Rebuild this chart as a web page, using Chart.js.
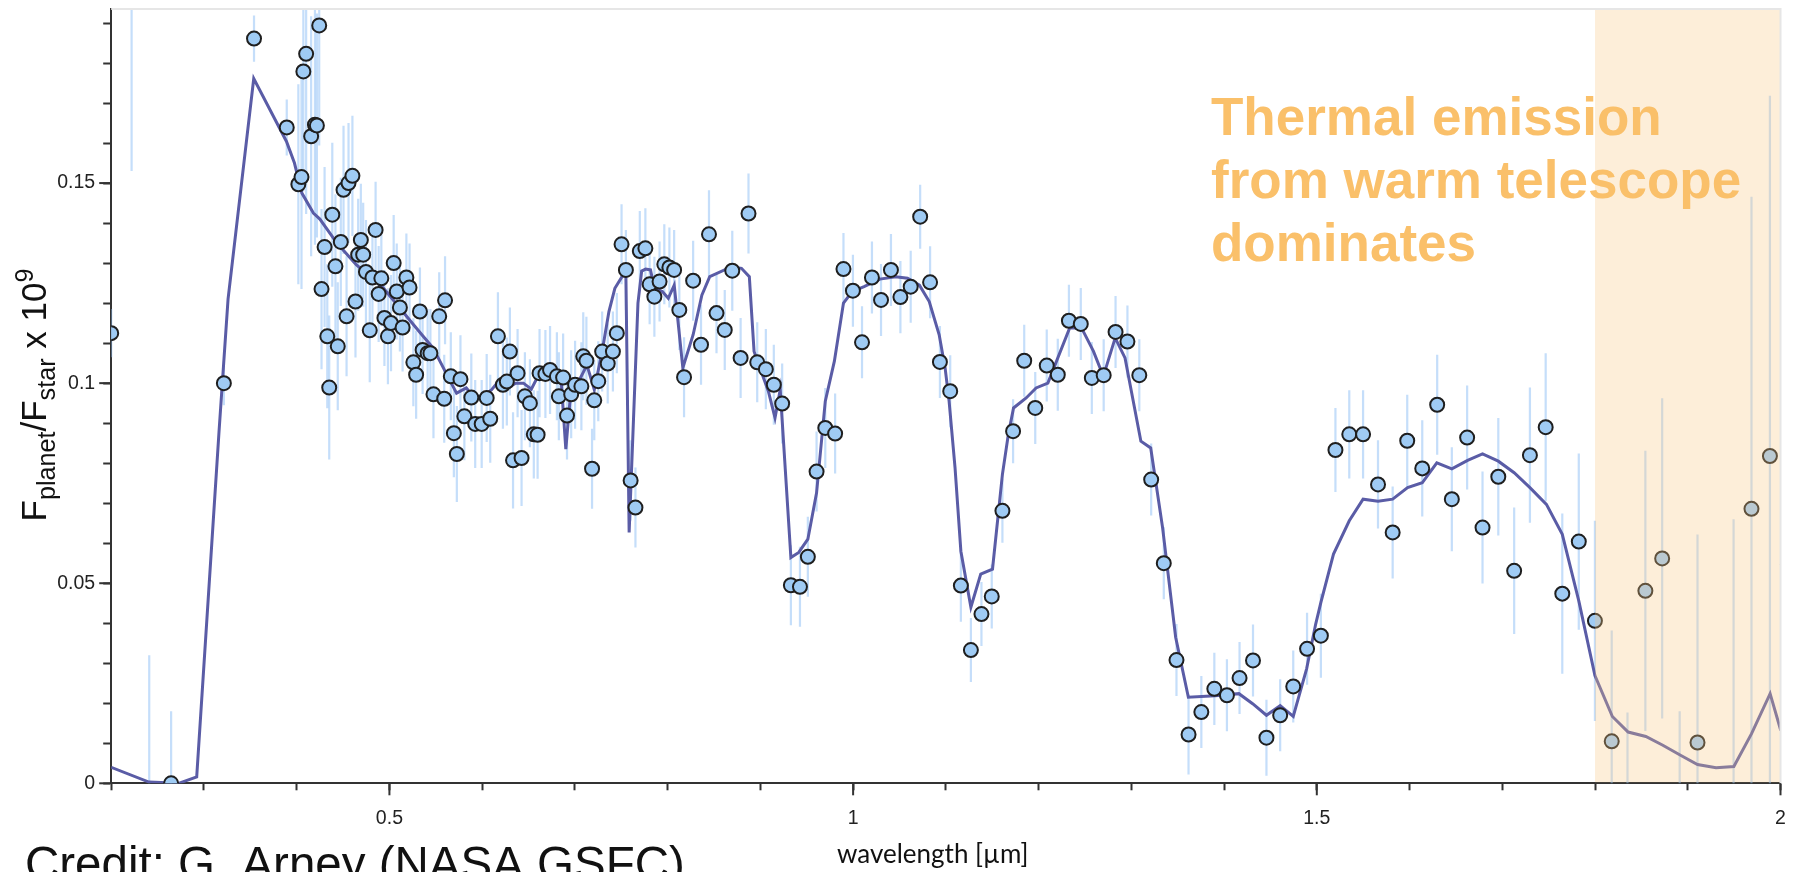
<!DOCTYPE html>
<html>
<head>
<meta charset="utf-8">
<script src="https://cdn.jsdelivr.net/npm/chart.js@4.4.1/dist/chart.umd.min.js"></script>
<style>
  html, body { margin: 0; padding: 0; background: #fff; }
  #wrap { width: 1798px; height: 872px; }
</style>
</head>
<body>
<div id="wrap"><canvas id="spectrum" width="1798" height="872"></canvas></div>
<script>
// observed points: wavelength [um], Fp/Fs x 1e9, 1-sigma error
const obsWave = [
  0.200, 0.222, 0.241, 0.2646, 0.3215, 0.3540, 0.3893, 0.4018, 0.4052, 0.4072,
  0.4102, 0.4156, 0.4197, 0.4218, 0.4243, 0.4268, 0.4301, 0.4330, 0.4351, 0.4384,
  0.4418, 0.4443, 0.4476, 0.4505, 0.4538, 0.4559, 0.4601, 0.4634, 0.4663, 0.4692,
  0.4717, 0.4747, 0.4788, 0.4817, 0.4851, 0.4884, 0.4913, 0.4946, 0.4984, 0.5017,
  0.5046, 0.5079, 0.5113, 0.5142, 0.5183, 0.5217, 0.5258, 0.5288, 0.5329, 0.5358,
  0.5412, 0.5442, 0.5475, 0.5537, 0.5591, 0.5600, 0.5662, 0.5695, 0.5727, 0.5766,
  0.5808, 0.5883, 0.5925, 0.5995, 0.6049, 0.6087, 0.6170, 0.6224, 0.6266, 0.6299,
  0.6333, 0.6382, 0.6425, 0.6461, 0.6515, 0.6557, 0.6598, 0.6619, 0.6682, 0.6732,
  0.6806, 0.6827, 0.6873, 0.6915, 0.6960, 0.7002, 0.7070, 0.7090, 0.7124, 0.7185,
  0.7209, 0.7252, 0.7294, 0.7354, 0.7410, 0.7452, 0.7503, 0.7550, 0.7601, 0.7653,
  0.7700, 0.7760, 0.7806, 0.7857, 0.7913, 0.7964, 0.8019, 0.8070, 0.8126, 0.8177,
  0.8275, 0.8360, 0.8446, 0.8527, 0.8616, 0.8697, 0.8787, 0.8872, 0.8966, 0.9059,
  0.9145, 0.9235, 0.9329, 0.9427, 0.9512, 0.9606, 0.9700, 0.9806, 0.9896, 0.9998,
  1.0096, 1.0203, 1.0301, 1.0408, 1.0510, 1.0621, 1.0723, 1.0830, 1.0936, 1.1047,
  1.1162, 1.1270, 1.1384, 1.1495, 1.1610, 1.1725, 1.1845, 1.1964, 1.2088, 1.2207,
  1.2327, 1.2455, 1.2574, 1.2702, 1.2830, 1.2958, 1.3086, 1.3214, 1.3350, 1.3487,
  1.3617, 1.3755, 1.3895, 1.4031, 1.4167, 1.4312, 1.4457, 1.4605, 1.4746, 1.4895,
  1.5044, 1.5201, 1.5350, 1.5499, 1.5660, 1.5818, 1.5975, 1.6137, 1.6298, 1.6456,
  1.6621, 1.6787, 1.6957, 1.7128, 1.7298, 1.7468, 1.7647, 1.7825, 1.7999, 1.8180,
  1.8350, 1.8543, 1.8724, 1.8913, 1.9105, 1.9494, 1.9687, 1.9886, 2.008
];
const obsFlux = [
  0.1125, 0.2200, -0.0050, 0.0000, 0.1000, 0.1861, 0.1639, 0.1497, 0.1515, 0.1779,
  0.1823, 0.1617, 0.1646, 0.1644, 0.1894, 0.1235, 0.1340, 0.1117, 0.0989, 0.1421,
  0.1292, 0.1092, 0.1353, 0.1483, 0.1167, 0.1500, 0.1518, 0.1204, 0.1321, 0.1358,
  0.1321, 0.1278, 0.1132, 0.1264, 0.1383, 0.1223, 0.1262, 0.1163, 0.1117, 0.1150,
  0.1300, 0.1229, 0.1189, 0.1139, 0.1264, 0.1239, 0.1052, 0.1021, 0.1179, 0.1083,
  0.1075, 0.1075, 0.0972, 0.1167, 0.0961, 0.1207, 0.1017, 0.0875, 0.0823, 0.1010,
  0.0917, 0.0964, 0.0898, 0.0898, 0.0963, 0.0911, 0.1117, 0.0996, 0.1004, 0.1079,
  0.0807, 0.1025, 0.0813, 0.0967, 0.0950, 0.0872, 0.0871, 0.1025, 0.1023, 0.1033,
  0.1017, 0.0967, 0.1014, 0.0919, 0.0972, 0.0996, 0.0992, 0.1067, 0.1056, 0.0786,
  0.0957, 0.1005, 0.1079, 0.1049, 0.1079, 0.1125, 0.1347, 0.1283, 0.0757, 0.0689,
  0.1330, 0.1337, 0.1247, 0.1216, 0.1254, 0.1297, 0.1289, 0.1283, 0.1183, 0.1015,
  0.1256, 0.1096, 0.1372, 0.1175, 0.1133, 0.1281, 0.1063, 0.1424, 0.1052, 0.1035,
  0.0996, 0.0949, 0.0495, 0.0491, 0.0566, 0.0779, 0.0888, 0.0874, 0.1285, 0.1231,
  0.1102, 0.1264, 0.1208, 0.1283, 0.1215, 0.1241, 0.1416, 0.1252, 0.1053, 0.0980,
  0.0494, 0.0333, 0.0423, 0.0467, 0.0681, 0.0880, 0.1056, 0.0938, 0.1044, 0.1021,
  0.1156, 0.1148, 0.1013, 0.1020, 0.1128, 0.1104, 0.1020, 0.0759, 0.0550, 0.0308,
  0.0122, 0.0178, 0.0236, 0.0220, 0.0263, 0.0307, 0.0114, 0.0170, 0.0242, 0.0336,
  0.0369, 0.0833, 0.0872, 0.0872, 0.0747, 0.0627, 0.0856, 0.0787, 0.0946, 0.0710,
  0.0864, 0.0639, 0.0766, 0.0531, 0.0820, 0.0890, 0.0474, 0.0604, 0.0406, 0.0105,
  -0.0060, 0.0481, 0.0562, -0.0040, 0.0102, -0.0030, 0.0686, 0.0818, 0.0547
];
const obsErr = [
  0.006, 0.067, 0.037, 0.018, 0.0055, 0.0058, 0.007, 0.025, 0.028, 0.030,
  0.040, 0.030, 0.030, 0.028, 0.030, 0.020, 0.020, 0.018, 0.018, 0.018,
  0.018, 0.016, 0.016, 0.016, 0.015, 0.015, 0.015, 0.014, 0.014, 0.014,
  0.013, 0.013, 0.013, 0.013, 0.012, 0.012, 0.012, 0.012, 0.012, 0.012,
  0.012, 0.012, 0.011, 0.011, 0.011, 0.011, 0.011, 0.011, 0.011, 0.011,
  0.011, 0.011, 0.011, 0.011, 0.011, 0.011, 0.011, 0.011, 0.012, 0.011,
  0.011, 0.011, 0.011, 0.011, 0.011, 0.011, 0.011, 0.011, 0.011, 0.011,
  0.012, 0.011, 0.012, 0.011, 0.011, 0.011, 0.011, 0.011, 0.011, 0.011,
  0.011, 0.011, 0.011, 0.011, 0.011, 0.011, 0.011, 0.011, 0.011, 0.010,
  0.010, 0.010, 0.010, 0.010, 0.010, 0.010, 0.010, 0.010, 0.010, 0.010,
  0.010, 0.010, 0.010, 0.010, 0.010, 0.010, 0.010, 0.010, 0.010, 0.010,
  0.010, 0.010, 0.011, 0.010, 0.010, 0.010, 0.010, 0.010, 0.010, 0.010,
  0.010, 0.010, 0.010, 0.010, 0.010, 0.010, 0.010, 0.010, 0.009, 0.009,
  0.009, 0.009, 0.009, 0.009, 0.009, 0.009, 0.008, 0.009, 0.009, 0.009,
  0.009, 0.008, 0.008, 0.008, 0.008, 0.008, 0.009, 0.009, 0.009, 0.009,
  0.009, 0.009, 0.009, 0.009, 0.009, 0.009, 0.009, 0.009, 0.009, 0.009,
  0.010, 0.009, 0.009, 0.009, 0.009, 0.009, 0.0095, 0.009, 0.009, 0.009,
  0.0105, 0.0105, 0.011, 0.011, 0.011, 0.0115, 0.0115, 0.012, 0.0125, 0.013,
  0.013, 0.014, 0.0147, 0.0158, 0.0169, 0.0185, 0.020, 0.022, 0.025, 0.0277,
  0.0237, 0.035, 0.040, 0.022, 0.052, 0.069, 0.078, 0.090, 0.090
];

// model spectrum
const modelWave = [
  0.200, 0.2407, 0.2727, 0.2922, 0.3163, 0.3260, 0.3537, 0.3890, 0.3976, 0.4056,
  0.4180, 0.4250, 0.4434, 0.4642, 0.4933, 0.5142, 0.5350, 0.5470, 0.5600, 0.5724,
  0.5829, 0.5933, 0.6100, 0.6175, 0.6280, 0.6360, 0.6445, 0.6530, 0.6630, 0.6778,
  0.6848, 0.6902, 0.6965, 0.7030, 0.7130, 0.7209, 0.7294, 0.7367, 0.7431, 0.7508,
  0.7550, 0.7585, 0.7680, 0.7720, 0.7763, 0.7815, 0.7857, 0.7943, 0.8007, 0.8071,
  0.8164, 0.8275, 0.8369, 0.8454, 0.8689, 0.8796, 0.8881, 0.8932, 0.9009, 0.9086,
  0.9158, 0.9214, 0.9329, 0.9414, 0.9512, 0.9606, 0.9700, 0.9798, 0.9896, 0.9990,
  1.0118, 1.0288, 1.0459, 1.0587, 1.0715, 1.0821, 1.0928, 1.0992, 1.1035, 1.1099,
  1.1162, 1.1270, 1.1376, 1.1503, 1.1610, 1.1674, 1.1730, 1.1866, 1.1973, 1.2100,
  1.2335, 1.2463, 1.2591, 1.2698, 1.2826, 1.2932, 1.3103, 1.3209, 1.3337, 1.3478,
  1.3615, 1.3904, 1.4160, 1.4308, 1.4457, 1.4605, 1.4746, 1.4890, 1.4988, 1.5044,
  1.5180, 1.5350, 1.5499, 1.5660, 1.5818, 1.5979, 1.6137, 1.6294, 1.6456, 1.6626,
  1.6787, 1.6957, 1.7128, 1.7298, 1.7476, 1.7647, 1.7825, 1.7999, 1.8187, 1.8357,
  1.8548, 1.8731, 1.8922, 1.9105, 1.9305, 1.9497, 1.9688, 1.9888, 2.0003
];
const modelFlux = [
  0.0040, 0.0003, 0.0000, 0.0016, 0.0880, 0.1210, 0.1761, 0.1604, 0.1550, 0.1475,
  0.1425, 0.1410, 0.1350, 0.1296, 0.1238, 0.1179, 0.1121, 0.1088, 0.1030, 0.0975,
  0.0988, 0.0958, 0.0983, 0.1004, 0.0988, 0.1000, 0.1000, 0.0985, 0.1030, 0.1025,
  0.1020, 0.0835, 0.1004, 0.1000, 0.1045, 0.0984, 0.1079, 0.1179, 0.1237, 0.1266,
  0.1270, 0.0627, 0.1200, 0.1280, 0.1285, 0.1283, 0.1237, 0.1229, 0.1212, 0.1245,
  0.1038, 0.1121, 0.1220, 0.1266, 0.1291, 0.1287, 0.1266, 0.1079, 0.1029, 0.0980,
  0.0913, 0.0984, 0.0564, 0.0577, 0.0610, 0.0726, 0.0955, 0.1055, 0.1200, 0.1229,
  0.1241, 0.1260, 0.1266, 0.1262, 0.1245, 0.1204, 0.1121, 0.1038, 0.0955, 0.0789,
  0.0580, 0.0440, 0.0523, 0.0535, 0.0772, 0.0872, 0.0938, 0.0963, 0.0988, 0.1000,
  0.1138, 0.1138, 0.1080, 0.1017, 0.1113, 0.1063, 0.0855, 0.0838, 0.0639, 0.0365,
  0.0215, 0.0219, 0.0224, 0.0199, 0.0170, 0.0194, 0.0167, 0.0286, 0.0398, 0.0452,
  0.0573, 0.0656, 0.0710, 0.0705, 0.0710, 0.0739, 0.0751, 0.0801, 0.0786, 0.0807,
  0.0823, 0.0805, 0.0776, 0.0739, 0.0697, 0.0622, 0.0456, 0.0269, 0.0167, 0.0128,
  0.0117, 0.0095, 0.0070, 0.0047, 0.0039, 0.0042, 0.0124, 0.0224, 0.0132
];

const xTickValues = [0.5, 1, 1.5, 2];
const xTickLabels = ['0.5', '1', '1.5', '2'];
const yTickValues = [0, 0.05, 0.1, 0.15];
const yTickLabels = ['0', '0.05', '0.1', '0.15'];
const thermalRange = [1.8, 2.0];
const noteLines = ['Thermal emission', 'from warm telescope', 'dominates'];

const tickFont = { family: 'Liberation Sans, Arial, sans-serif', size: 19.5 };

function labelFor(v, values, labels) {
  const i = values.findIndex(t => Math.abs(t - v) < 1e-6);
  return i < 0 ? '' : labels[i];
}

// vertical error bars under the points
const errorBars = {
  id: 'errorBars',
  beforeDatasetsDraw(chart) {
    const { ctx, chartArea: a, scales: { x, y } } = chart;
    ctx.save();
    ctx.beginPath();
    ctx.rect(a.left, a.top, a.right - a.left, a.bottom - a.top);
    ctx.clip();
    ctx.strokeStyle = 'rgba(140, 190, 245, 0.5)';
    ctx.lineWidth = 2.2;
    obsWave.forEach((w, i) => {
      const px = x.getPixelForValue(w);
      ctx.beginPath();
      ctx.moveTo(px, y.getPixelForValue(obsFlux[i] - obsErr[i]));
      ctx.lineTo(px, y.getPixelForValue(obsFlux[i] + obsErr[i]));
      ctx.stroke();
    });
    ctx.restore();
  }
};

// shaded band, frame, long major ticks and all the free text
const decorations = {
  id: 'decorations',
  afterDatasetsDraw(chart) {
    const { ctx, chartArea: a, scales: { x } } = chart;
    const x0 = x.getPixelForValue(thermalRange[0]);
    const x1 = x.getPixelForValue(thermalRange[1]);
    ctx.save();
    ctx.fillStyle = 'rgba(249, 200, 128, 0.3)';
    ctx.fillRect(x0, a.top, x1 - x0, a.bottom - a.top - 1);
    ctx.strokeStyle = '#e6e6e6';
    ctx.lineWidth = 2;
    ctx.beginPath();
    ctx.moveTo(a.left, a.top);
    ctx.lineTo(a.right, a.top);
    ctx.lineTo(a.right, a.bottom);
    ctx.stroke();
    ctx.restore();
  },
  afterDraw(chart) {
    const { ctx, chartArea: a, scales: { x, y } } = chart;
    ctx.save();

    // major ticks are longer than the minor ones
    ctx.strokeStyle = '#333';
    ctx.lineWidth = 2;
    xTickValues.forEach(v => {
      const px = x.getPixelForValue(v);
      ctx.beginPath(); ctx.moveTo(px, a.bottom); ctx.lineTo(px, a.bottom + 12); ctx.stroke();
    });
    yTickValues.forEach(v => {
      const py = y.getPixelForValue(v);
      ctx.beginPath(); ctx.moveTo(a.left, py); ctx.lineTo(a.left - 12, py); ctx.stroke();
    });

    // y title with sub/superscripts
    const base = 35;
    const runs = [
      { t: 'F', s: 1, dy: 0 },
      { t: 'planet', s: 0.72, dy: 9 },
      { t: '/F', s: 1, dy: 0 },
      { t: 'star', s: 0.72, dy: 9 },
      { t: ' x 10', s: 1, dy: 0 },
      { t: '9', s: 0.72, dy: -13 }
    ];
    let total = 0;
    runs.forEach(r => {
      ctx.font = (base * r.s) + 'px "Liberation Sans", Arial, sans-serif';
      r.w = ctx.measureText(r.t).width;
      total += r.w;
    });
    ctx.translate(45.5, 395);
    ctx.rotate(-Math.PI / 2);
    ctx.fillStyle = '#111';
    ctx.textBaseline = 'alphabetic';
    let cx = -total / 2;
    runs.forEach(r => {
      ctx.font = (base * r.s) + 'px "Liberation Sans", Arial, sans-serif';
      ctx.fillText(r.t, cx, r.dy);
      cx += r.w;
    });
    ctx.setTransform(1, 0, 0, 1, 0, 0);

    // x title
    ctx.fillStyle = '#111';
    ctx.font = '26px Lato, "Open Sans", sans-serif';
    ctx.textAlign = 'left';
    ctx.fillText('wavelength [\u00b5m]', 837, 863);

    // credit line, cut by the bottom edge
    ctx.font = '47.5px "Liberation Sans", Arial, sans-serif';
    ctx.fillText('Credit: G. Arney (NASA GSFC)', 25, 880);

    // note
    ctx.fillStyle = 'rgb(250, 192, 106)';
    ctx.font = 'bold 53px "Liberation Sans", Arial, sans-serif';
    noteLines.forEach((line, i) => ctx.fillText(line, 1211, 135 + i * 63));

    ctx.restore();
  }
};

const ctx = document.getElementById('spectrum').getContext('2d');

new Chart(ctx, {
  type: 'scatter',
  data: {
    datasets: [
      {
        type: 'line',
        label: 'model',
        data: modelWave.map((w, i) => ({ x: w, y: modelFlux[i] })),
        borderColor: '#5a5ca6',
        borderWidth: 3,
        pointRadius: 0,
        tension: 0,
        fill: false,
        clip: 0,
        order: 2
      },
      {
        label: 'data',
        data: obsWave.map((w, i) => ({ x: w, y: obsFlux[i] })),
        pointRadius: 7,
        pointBackgroundColor: '#9fcbf4',
        pointBorderColor: '#1f1f1f',
        pointBorderWidth: 2,
        clip: 0,
        order: 1
      }
    ]
  },
  options: {
    responsive: false,
    animation: false,
    devicePixelRatio: 1,
    layout: { padding: { top: 6.5, right: 17.5, left: 0, bottom: 0 } },
    plugins: {
      legend: { display: false },
      tooltip: { enabled: false }
    },
    scales: {
      x: {
        type: 'linear',
        min: 0.2,
        max: 2.0,
        afterFit: s => { s.height = 88.7; s.paddingLeft = 0; s.paddingRight = 0; },
        border: { display: true, color: '#333', width: 2 },
        grid: { drawOnChartArea: false, drawTicks: true, tickLength: 7, tickColor: '#333', tickWidth: 2 },
        ticks: {
          stepSize: 0.1,
          maxTicksLimit: 100,
          autoSkip: false,
          maxRotation: 0,
          padding: 17,
          color: '#222',
          font: tickFont,
          callback: v => labelFor(v, xTickValues, xTickLabels)
        }
      },
      y: {
        type: 'linear',
        min: 0,
        max: 0.1935,
        afterFit: s => { s.width = 111.2; s.paddingTop = 0; s.paddingBottom = 0; },
        border: { display: true, color: '#333', width: 2 },
        grid: { drawOnChartArea: false, drawTicks: true, tickLength: 8, tickColor: '#333', tickWidth: 2 },
        ticks: {
          stepSize: 0.01,
          maxTicksLimit: 100,
          includeBounds: false,
          autoSkip: false,
          padding: 8,
          color: '#222',
          font: tickFont,
          callback: v => labelFor(v, yTickValues, yTickLabels)
        }
      }
    }
  },
  plugins: [errorBars, decorations]
});
</script>
</body>
</html>
